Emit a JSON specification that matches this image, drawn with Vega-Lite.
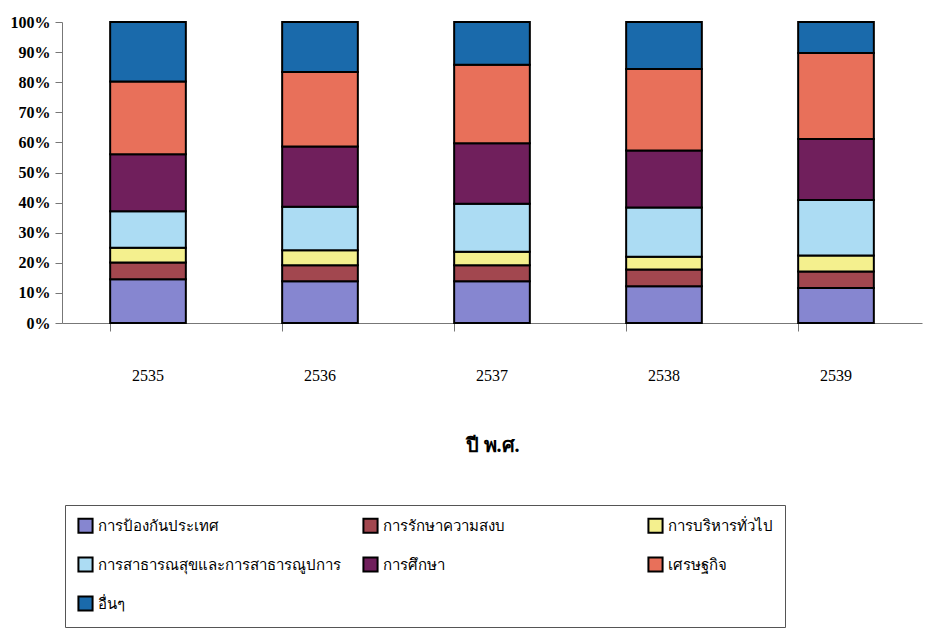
{
  "$schema": "https://vega.github.io/schema/vega-lite/v6.json",
  "width": 860,
  "height": 301,
  "autosize": "none",
  "padding": {"left": 62, "top": 22, "right": 3, "bottom": 318},
  "background": "white",
  "config": {"view": {"stroke": null}},
  "data": {
    "values": [
      {"year": "2535", "k": 1, "cat": "การป้องกันประเทศ", "v": 14.5},
      {"year": "2535", "k": 2, "cat": "การรักษาความสงบ", "v": 5.6},
      {"year": "2535", "k": 3, "cat": "การบริหารทั่วไป", "v": 4.9},
      {"year": "2535", "k": 4, "cat": "การสาธารณสุขและการสาธารณูปการ", "v": 12.1},
      {"year": "2535", "k": 5, "cat": "การศึกษา", "v": 19.0},
      {"year": "2535", "k": 6, "cat": "เศรษฐกิจ", "v": 24.1},
      {"year": "2535", "k": 7, "cat": "อื่นๆ", "v": 19.8},
      {"year": "2536", "k": 1, "cat": "การป้องกันประเทศ", "v": 13.9},
      {"year": "2536", "k": 2, "cat": "การรักษาความสงบ", "v": 5.3},
      {"year": "2536", "k": 3, "cat": "การบริหารทั่วไป", "v": 5.0},
      {"year": "2536", "k": 4, "cat": "การสาธารณสุขและการสาธารณูปการ", "v": 14.4},
      {"year": "2536", "k": 5, "cat": "การศึกษา", "v": 20.0},
      {"year": "2536", "k": 6, "cat": "เศรษฐกิจ", "v": 24.8},
      {"year": "2536", "k": 7, "cat": "อื่นๆ", "v": 16.6},
      {"year": "2537", "k": 1, "cat": "การป้องกันประเทศ", "v": 13.9},
      {"year": "2537", "k": 2, "cat": "การรักษาความสงบ", "v": 5.3},
      {"year": "2537", "k": 3, "cat": "การบริหารทั่วไป", "v": 4.5},
      {"year": "2537", "k": 4, "cat": "การสาธารณสุขและการสาธารณูปการ", "v": 15.9},
      {"year": "2537", "k": 5, "cat": "การศึกษา", "v": 20.1},
      {"year": "2537", "k": 6, "cat": "เศรษฐกิจ", "v": 26.1},
      {"year": "2537", "k": 7, "cat": "อื่นๆ", "v": 14.2},
      {"year": "2538", "k": 1, "cat": "การป้องกันประเทศ", "v": 12.2},
      {"year": "2538", "k": 2, "cat": "การรักษาความสงบ", "v": 5.6},
      {"year": "2538", "k": 3, "cat": "การบริหารทั่วไป", "v": 4.2},
      {"year": "2538", "k": 4, "cat": "การสาธารณสุขและการสาธารณูปการ", "v": 16.4},
      {"year": "2538", "k": 5, "cat": "การศึกษา", "v": 18.9},
      {"year": "2538", "k": 6, "cat": "เศรษฐกิจ", "v": 27.1},
      {"year": "2538", "k": 7, "cat": "อื่นๆ", "v": 15.6},
      {"year": "2539", "k": 1, "cat": "การป้องกันประเทศ", "v": 11.6},
      {"year": "2539", "k": 2, "cat": "การรักษาความสงบ", "v": 5.5},
      {"year": "2539", "k": 3, "cat": "การบริหารทั่วไป", "v": 5.3},
      {"year": "2539", "k": 4, "cat": "การสาธารณสุขและการสาธารณูปการ", "v": 18.5},
      {"year": "2539", "k": 5, "cat": "การศึกษา", "v": 20.2},
      {"year": "2539", "k": 6, "cat": "เศรษฐกิจ", "v": 28.6},
      {"year": "2539", "k": 7, "cat": "อื่นๆ", "v": 10.3}
    ]
  },
  "mark": {"type": "bar", "stroke": "black", "strokeWidth": 2},
  "encoding": {
    "x": {
      "field": "year",
      "type": "nominal",
      "scale": {"paddingInner": 0.56, "paddingOuter": 0.28},
      "axis": {
        "title": "ปี พ.ศ.",
        "titleFont": "Liberation Serif",
        "titleFontSize": 20,
        "titleFontWeight": "bold",
        "titleColor": "black",
        "titlePadding": 52,
        "labelAngle": 0,
        "labelFont": "Liberation Serif",
        "labelFontSize": 16,
        "labelColor": "black",
        "labelPadding": 36,
        "bandPosition": 0,
        "tickSize": 8,
        "tickColor": "#777",
        "domainColor": "#777",
        "grid": false
      }
    },
    "y": {
      "aggregate": "sum",
      "field": "v",
      "type": "quantitative",
      "stack": "normalize",
      "scale": {"domain": [0, 1]},
      "axis": {
        "title": null,
        "format": ".0%",
        "values": [0, 0.1, 0.2, 0.3, 0.4, 0.5, 0.6, 0.7, 0.8, 0.9, 1],
        "labelFont": "Liberation Serif",
        "labelFontSize": 16,
        "labelFontWeight": "bold",
        "labelColor": "black",
        "labelPadding": 5,
        "tickSize": 7,
        "tickColor": "#777",
        "domainColor": "#777",
        "grid": false
      }
    },
    "order": {"field": "k", "type": "quantitative", "sort": "ascending"},
    "color": {
      "field": "cat",
      "type": "nominal",
      "scale": {
        "domain": ["การป้องกันประเทศ", "การรักษาความสงบ", "การบริหารทั่วไป", "การสาธารณสุขและการสาธารณูปการ", "การศึกษา", "เศรษฐกิจ", "อื่นๆ"],
        "range": ["#8686d0", "#a2474f", "#f4f08e", "#acdcf3", "#701f5c", "#e8705a", "#1a6aab"]
      },
      "legend": {
        "title": null,
        "orient": "none",
        "direction": "horizontal",
        "legendX": 3,
        "legendY": 483,
        "columns": 3,
        "gridAlign": "all",
        "columnPadding": 18,
        "rowPadding": 16,
        "symbolType": "square",
        "symbolSize": 200,
        "symbolStrokeColor": "black",
        "symbolStrokeWidth": 2,
        "labelFont": "Liberation Serif",
        "labelFontSize": 15,
        "labelColor": "black",
        "labelOffset": 4,
        "labelLimit": 400,
        "strokeColor": "#555",
        "fillColor": "white",
        "padding": 12
      }
    }
  }
}
